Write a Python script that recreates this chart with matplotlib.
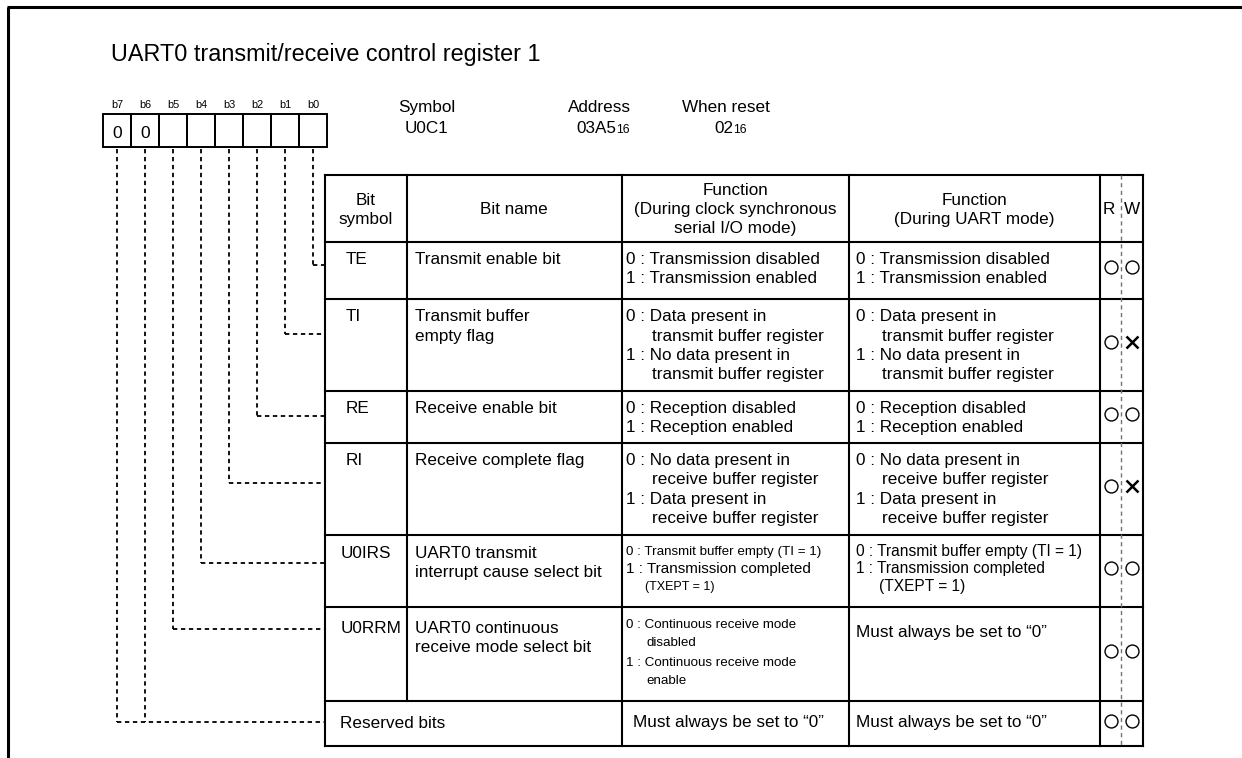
import matplotlib.pyplot as plt

plt.rcParams['font.family'] = ['Liberation Sans', 'DejaVu Sans']

# ---- content ----
title = "UART0 transmit/receive control register 1"
bit_labels = ["b7", "b6", "b5", "b4", "b3", "b2", "b1", "b0"]
bit_values = ["0", "0", "", "", "", "", "", ""]
info_heads = ["Symbol", "Address", "When reset"]
info_values = [("U0C1", ""), ("03A5", "16"), ("02", "16")]

header = [["Bit", "symbol"], ["Bit name"],
          ["Function", "(During clock synchronous", "serial I/O mode)"],
          ["Function", "(During UART mode)"]]
bit_symbols = ["TE", "TI", "RE", "RI", "U0IRS", "U0RRM", "Reserved bits"]
bit_names = [["Transmit enable bit"],
             ["Transmit buffer", "empty flag"],
             ["Receive enable bit"],
             ["Receive complete flag"],
             ["UART0 transmit", "interrupt cause select bit"],
             ["UART0 continuous", "receive mode select bit"],
             []]
must0 = "Must always be set to \u201c0\u201d"
func_sync = [
    ["0 : Transmission disabled", "1 : Transmission enabled"],
    ["0 : Data present in", "transmit buffer register",
     "1 : No data present in", "transmit buffer register"],
    ["0 : Reception disabled", "1 : Reception enabled"],
    ["0 : No data present in", "receive buffer register",
     "1 : Data present in", "receive buffer register"],
    ["0 : Transmit buffer empty (TI = 1)", "1 : Transmission completed", "(TXEPT = 1)"],
    ["0 : Continuous receive mode", "disabled", "1 : Continuous receive mode", "enable"],
    [must0],
]
func_uart = [
    ["0 : Transmission disabled", "1 : Transmission enabled"],
    ["0 : Data present in", "transmit buffer register",
     "1 : No data present in", "transmit buffer register"],
    ["0 : Reception disabled", "1 : Reception enabled"],
    ["0 : No data present in", "receive buffer register",
     "1 : Data present in", "receive buffer register"],
    ["0 : Transmit buffer empty (TI = 1)", "1 : Transmission completed", "(TXEPT = 1)"],
    [must0],
    [must0],
]
read_ok = ["o", "o", "o", "o", "o", "o", "o"]
write_ok = ["o", "x", "o", "x", "o", "o", "o"]
bit_row = [6, 6, 5, 4, 3, 2, 1, 0]   # table row each bit b7..b0 points to

# ---- layout (pixels) ----
W, H = 1242, 758
cell_x0, cell_w, cell_top, cell_bot = 103.3, 28.0, 114, 147
cols = [325, 406.7, 621.7, 849.3, 1100, 1121, 1142.7]
row_edges = [175, 241.7, 299, 390.7, 442.7, 535, 607, 701, 746]
link_y = [264.7, 334.3, 415.7, 482.7, 563.3, 629, 722]
FS = 12.3
LH = 19.5
# per cell overrides: (row, col) -> (sizes or None, y offsets from row top)
cell_style = {
    (4, 0): (None, [17]),
    (4, 1): (None, [17, 36]),
    (4, 2): ([9.6, 11.0, 9.0], [15, 32.5, 50.5]),
    (4, 3): ([11.2, 11.2, 11.2], [15, 32.5, 50.5]),
    (5, 0): (None, [20]),
    (5, 1): (None, [20, 39.5]),
    (5, 2): ([9.6, 9.6, 9.6, 9.6], [17, 35, 54, 72]),
    (5, 3): (None, [24]),
    (6, 0): (None, [20.5]),
    (6, 2): (None, [20.5]),
    (6, 3): (None, [20.5]),
}

fig = plt.figure(figsize=(W / 100, H / 100), dpi=100)
ax = fig.add_axes([0, 0, 1, 1])
ax.set_xlim(0, W)
ax.set_ylim(H, 0)
ax.axis('off')

def put(x, y, s, size=FS, ha='left'):
    ax.text(x, y, s, fontsize=size, ha=ha, va='center_baseline', color='black')

# frame
ax.plot([6.7, W], [6.7, 6.7], color='black', lw=2.2, solid_capstyle='butt')
ax.plot([7.5, 7.5], [6.7, H], color='black', lw=2.2, solid_capstyle='butt')

put(110.7, 51.7, title, size=16.8)

# register cells
for i, (lab, val) in enumerate(zip(bit_labels, bit_values)):
    x = cell_x0 + i * cell_w
    ax.add_patch(plt.Rectangle((x, cell_top), cell_w, cell_bot - cell_top,
                               fill=False, ec='black', lw=1.4))
    put(x + cell_w / 2, 104, lab, size=7.8, ha='center')
    if val:
        put(x + cell_w / 2, 131.5, val, size=12.5, ha='center')

# symbol / address / reset
for cx, head, (main, sub) in zip([426.5, 599.3, 725.5], info_heads, info_values):
    put(cx, 106, head, ha='center')
    if sub:
        split = {"03A5": 616.0, "02": 733.0}[main]
        ax.text(split, 133, main, fontsize=FS, ha='right', va='baseline')
        ax.text(split, 133, sub, fontsize=8.8, ha='left', va='baseline')
    else:
        put(cx, 126.7, main, ha='center')

# dashed leaders from bits to rows
bit_x = [cell_x0 + (i + 0.5) * cell_w - 0.3 for i in range(len(bit_labels))]
for i, r in enumerate(bit_row):
    ax.plot([bit_x[i], bit_x[i]], [cell_bot + 2, link_y[r]],
            color='black', lw=1.3, dashes=(2.4, 2.0))
for r in sorted(set(bit_row)):
    x_left = min(bit_x[i] for i, rr in enumerate(bit_row) if rr == r)
    ax.plot([x_left, cols[0]], [link_y[r], link_y[r]],
            color='black', lw=1.3, dashes=(2.4, 2.0))

# table grid
top, bot = row_edges[0], row_edges[-1]
for y in row_edges:
    ax.plot([cols[0], cols[6]], [y, y], color='black', lw=1.5, solid_capstyle='projecting')
for j, x in enumerate(cols):
    if j == 5:
        ax.plot([x, x], [top, bot], color='0.45', lw=1.0, dashes=(3, 2.5))
    elif j == 1:
        ax.plot([x, x], [top, row_edges[-2]], color='black', lw=1.5)
    else:
        ax.plot([x, x], [top, bot], color='black', lw=1.5, solid_capstyle='projecting')

# header
hc = (row_edges[0] + row_edges[1]) / 2
for j, lines in enumerate(header):
    cx = (cols[j] + cols[j + 1]) / 2
    n = len(lines)
    for k, s in enumerate(lines):
        put(cx, hc + (k - (n - 1) / 2) * 19, s, ha='center')
put(1102.7, hc, "R")
put((cols[5] + cols[6]) / 2, hc, "W", ha='center')

# body
def cell_lines(r, c, x0, lines, hang=False):
    t = row_edges[r + 1]
    sizes, offs = cell_style.get((r, c), (None, None))
    if sizes is None:
        sizes = [FS] * len(lines)
    if offs is None:
        offs = [16 + LH * k for k in range(len(lines))]
    for k, s in enumerate(lines):
        indent = 0
        if hang and k > 0 and not s[:1].isdigit():
            indent = 2.1 * sizes[k]
        put(x0 + indent, t + offs[k], s, size=sizes[k])

for r in range(len(bit_symbols)):
    sym = bit_symbols[r]
    cell_lines(r, 0, 346 if len(sym) <= 2 else 340.5, [sym])
    cell_lines(r, 1, cols[1] + 8, bit_names[r])
    dx = 11 if r == 6 else 4.5
    cell_lines(r, 2, cols[2] + dx, func_sync[r], hang=True)
    cell_lines(r, 3, cols[3] + 6.5, func_uart[r], hang=True)
    yc = (row_edges[r + 1] + row_edges[r + 2]) / 2 - 3
    for xc, v in zip([(cols[4] + cols[5]) / 2, (cols[5] + cols[6]) / 2], [read_ok[r], write_ok[r]]):
        if v == "o":
            ax.plot(xc, yc, marker='o', ms=9.3, mfc='white', mec='black', mew=1.0)
        else:
            ax.plot(xc, yc, marker='x', ms=8.0, mec='black', mew=1.8)

fig.savefig('out.png', dpi=100, facecolor='white')
